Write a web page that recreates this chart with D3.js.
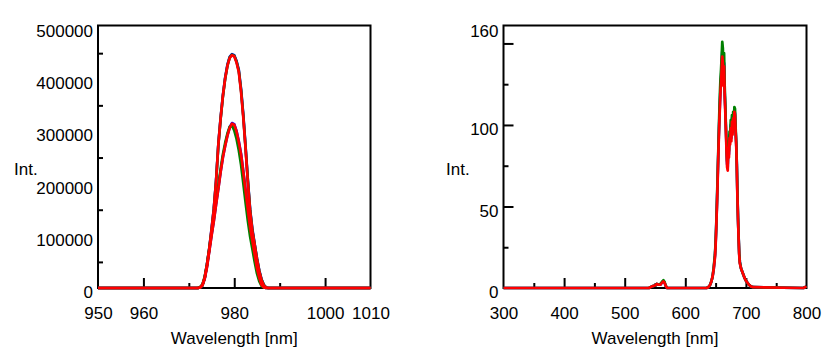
<!DOCTYPE html>
<html>
<head>
<meta charset="utf-8">
<script src="https://cdn.jsdelivr.net/npm/d3@7"></script>
<style>
  html, body { margin: 0; padding: 0; background: #fff; }
  svg { display: block; }
  text { font-family: "Liberation Sans", Arial, sans-serif; fill: #000; }
</style>
</head>
<body>
<svg id="chart" width="829" height="354"></svg>
<script>
/* Two emission spectra side by side: NIR laser line near 980 nm (left)
   and the visible emission 640-710 nm (right). Three runs per panel
   (blue, green, red), red drawn last like in the original export. */

// ---- left panel data (intensity in thousands) ----
const leftWl = [950, 972, 972.5, 973, 973.5, 974, 974.5, 975, 975.5, 976, 976.5, 977, 977.5,
  978, 978.5, 979, 979.5, 980, 980.5, 981, 981.5, 982, 982.5, 983, 983.5, 984, 984.5,
  985, 985.5, 986, 986.5, 987, 987.5, 988, 1010];
const blueHigh = [0, 0, 1, 6, 20, 46, 76, 113, 152, 206, 276, 326, 369, 403, 428, 443, 448, 446, 435,
  418, 381, 331, 270, 206, 150, 112, 84, 57, 34, 17, 6, 1, 0, 0, 0];
const blueLow = [0, 0, 1, 5, 18, 41, 71, 101, 129, 161, 191, 223, 251, 273, 293, 308, 316, 314, 301,
  281, 257, 223, 187, 151, 117, 91, 65, 39, 21, 7, 2, 0, 0, 0, 0];
const greenHigh = [0, 0, 1, 5, 19, 44, 74, 110, 150, 204, 274, 324, 367, 401, 426, 442, 447, 445, 434,
  416, 379, 329, 268, 205, 148, 110, 83, 56, 33, 16, 6, 1, 0, 0, 0];
const greenLow = [0, 0, 2, 7, 22, 45, 76, 105, 134, 166, 196, 228, 256, 278, 296, 309, 311, 302, 286,
  264, 236, 200, 163, 128, 98, 74, 50, 28, 13, 4, 1, 0, 0, 0, 0];
const redHigh = [0, 0, 1, 6, 20, 45, 75, 112, 150, 205, 275, 325, 368, 402, 426, 441, 446, 444, 432,
  414, 376, 326, 266, 202, 146, 108, 82, 55, 32, 15, 5, 1, 0, 0, 0];
const redLow = [0, 0, 1, 5, 18, 40, 70, 100, 128, 160, 190, 222, 250, 272, 292, 307, 315, 313, 300,
  280, 256, 222, 186, 150, 116, 90, 64, 38, 20, 6, 1, 0, 0, 0, 0];

// ---- right panel data ----
const rightWl = [300, 540, 545, 550, 553, 556, 559, 562, 564, 566, 568, 570, 635, 638, 641, 643, 645,
  647, 649, 650, 651, 652, 653, 654, 655, 656, 657, 658, 659, 660, 661, 662, 663, 664, 665, 666,
  667, 668, 669, 670, 671, 672, 673, 674, 675, 676, 677, 678, 679, 680, 681, 682, 683, 684, 685,
  686, 687, 688, 689, 690, 692, 694, 696, 698, 700, 702, 705, 708, 712, 795, 800];
const blueVis = [0, 0, 1, 1.5, 2.5, 2, 2, 3.5, 4.2, 3, 1, 0, 0, 0.5, 2, 4, 7, 12, 20, 27, 37, 49,
  62, 76, 90, 102, 112, 122, 128, 136, 145, 141, 126, 138, 120, 110, 98, 86, 76, 74, 88, 82, 94,
  90, 100, 92, 104, 96, 106, 100, 109, 107, 97, 89, 76, 57, 43, 31, 21, 16, 12, 10, 8, 6, 4.5,
  3.5, 2, 1, 0.5, 0, 1];
const greenVis = [0, 0, 1, 1.5, 2.5, 2, 2.5, 4, 4.8, 3.5, 1.2, 0, 0, 0.5, 2, 4, 7, 13, 21, 28, 38,
  50, 64, 78, 92, 106, 118, 128, 134, 142, 151, 147, 130, 144, 124, 112, 100, 88, 78, 76, 90, 84,
  96, 92, 103, 95, 106, 98, 108, 102, 111, 110, 99, 90, 76, 58, 43, 31, 21, 16, 12, 10, 8, 6, 4.5,
  3.5, 2, 1, 0.5, 0, 1];
const redVis = [0, 0, 1, 1.5, 2.5, 2, 2, 3.5, 4, 3, 1, 0, 0, 0.5, 2, 4, 7, 12, 19, 26, 36, 48, 60,
  75, 88, 100, 110, 120, 126, 134, 142, 138, 124, 136, 118, 108, 96, 84, 74, 72, 86, 80, 92, 88,
  98, 90, 102, 94, 104, 98, 108, 106, 96, 88, 74, 56, 42, 30, 20, 15, 12, 10, 8, 6, 4.5, 3.5, 2,
  1, 0.5, 0, 1];

// ---- axis ticks ----
const leftXLabels = [950, 960, 980, 1000, 1010];
const leftXMajor = [960, 980, 1000];
const leftXMinor = [970, 990];
const leftYLabels = [0, 100, 200, 300, 400, 500];
const leftYMinor = [50, 150, 250, 350, 450];
const rightXLabels = [300, 400, 500, 600, 700, 800];
const rightXMajor = [400, 500, 600, 700];
const rightXMinor = [350, 450, 550, 650, 750];
const rightYLabels = [0, 50, 100, 160];
const rightYMajor = [50, 100, 150];
const rightYMinor = [25, 75, 125];

const COLORS = { blue: '#0000ff', green: '#008000', red: '#ff0000' };
const svg = d3.select('#chart');

function drawPanel(cfg){
  const x = d3.scaleLinear().domain(cfg.xDomain).range([cfg.x0, cfg.x1]);
  const y = d3.scaleLinear().domain(cfg.yDomain).range([cfg.y1, cfg.y0]);
  const g = svg.append('g');

  // frame first: the spectra sit on top of the bottom axis in the original
  g.append('rect')
    .attr('x', cfg.x0).attr('y', cfg.y0)
    .attr('width', cfg.x1 - cfg.x0).attr('height', cfg.y1 - cfg.y0)
    .attr('fill', 'none').attr('stroke', '#000').attr('stroke-width', 2);

  // inward tick marks
  const tickAxis = (axis, vals, size, tr) => {
    const a = g.append('g').attr('transform', tr)
      .call(axis.tickValues(vals).tickSize(-size).tickFormat(''));
    a.select('.domain').remove();
    a.selectAll('line').attr('stroke', '#000').attr('stroke-width', 2);
  };
  tickAxis(d3.axisBottom(x), cfg.xMajor, 10, `translate(0,${cfg.y1})`);
  tickAxis(d3.axisBottom(x), cfg.xMinor, 5, `translate(0,${cfg.y1})`);
  if(cfg.yMajor) tickAxis(d3.axisLeft(y), cfg.yMajor, 10, `translate(${cfg.x0},0)`);
  tickAxis(d3.axisLeft(y), cfg.yMinor, 5, `translate(${cfg.x0},0)`);

  const line = d3.line().x((d, i) => x(cfg.wl[i])).y(d => y(d));
  cfg.series.forEach(s => {
    g.append('path')
      .attr('d', line(s.values))
      .attr('fill', 'none')
      .attr('stroke', COLORS[s.color])
      .attr('stroke-width', 2.7)
      .attr('stroke-linejoin', 'round');
  });

  // tick labels
  const xl = g.append('g').attr('transform', `translate(0,${cfg.y1})`)
    .call(d3.axisBottom(x).tickValues(cfg.xLabels).tickSize(0).tickPadding(18.5).tickFormat(d3.format('d')));
  xl.select('.domain').remove();
  const yl = g.append('g').attr('transform', `translate(${cfg.x0},0)`)
    .call(d3.axisLeft(y).tickValues(cfg.yLabels).tickSize(0).tickPadding(5).tickFormat(cfg.yFormat));
  yl.select('.domain').remove();
  yl.selectAll('text').attr('dy', '0.56em');
  g.selectAll('.tick text')
    .style('font-family', '"Liberation Sans", Arial, sans-serif')
    .style('font-size', '17px').attr('fill', '#000');

  g.append('text')
    .attr('x', (cfg.x0 + cfg.x1) / 2).attr('y', 343.5)
    .attr('text-anchor', 'middle').style('font-size', '17px')
    .text('Wavelength [nm]');
  g.append('text')
    .attr('x', cfg.intX).attr('y', 175)
    .style('font-size', '17px')
    .text('Int.');
}

drawPanel({
  x0: 98, x1: 370.5, y0: 25.5, y1: 288,
  xDomain: [950, 1010], yDomain: [0, 503],
  wl: leftWl,
  series: [
    { color: 'blue', values: blueHigh }, { color: 'blue', values: blueLow },
    { color: 'green', values: greenHigh }, { color: 'green', values: greenLow },
    { color: 'red', values: redHigh }, { color: 'red', values: redLow }
  ],
  xLabels: leftXLabels, xMajor: leftXMajor, xMinor: leftXMinor,
  yLabels: leftYLabels, yMinor: leftYMinor,
  yFormat: d => d3.format('d')(d * 1000),
  intX: 14
});

drawPanel({
  x0: 503.5, x1: 806.5, y0: 25.5, y1: 288,
  xDomain: [300, 800], yDomain: [0, 161],
  wl: rightWl,
  series: [
    { color: 'blue', values: blueVis },
    { color: 'green', values: greenVis },
    { color: 'red', values: redVis }
  ],
  xLabels: rightXLabels, xMajor: rightXMajor, xMinor: rightXMinor,
  yLabels: rightYLabels, yMajor: rightYMajor, yMinor: rightYMinor,
  yFormat: d3.format('d'),
  intX: 446
});
</script>
</body>
</html>
